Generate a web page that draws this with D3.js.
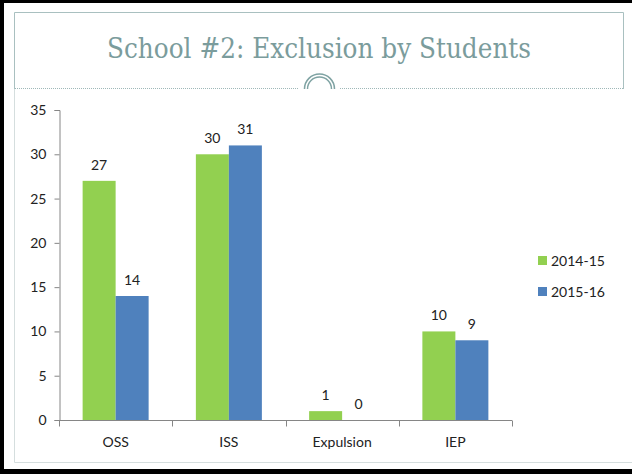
<!DOCTYPE html>
<html>
<head>
<meta charset="utf-8">
<script src="https://cdn.jsdelivr.net/npm/d3@7/dist/d3.min.js"></script>
<style>
  html, body { margin: 0; padding: 0; background: #fff; }
  svg { display: block; }
</style>
</head>
<body>
<svg id="chart" width="632" height="474"></svg>
<script>
// Exclusion counts by type, two school years
const categories = ["OSS", "ISS", "Expulsion", "IEP"];
const seriesNames = ["2014-15", "2015-16"];
const values2014 = [27, 30, 1, 10];
const values2015 = [14, 31, 0, 9];
const yTicks = [0, 5, 10, 15, 20, 25, 30, 35];
const colors = ["#92D050", "#4F81BD"];
const titleText = "School #2: Exclusion by Students";

const svg = d3.select("#chart");
const font = "Lato, 'Open Sans', sans-serif";

// slide frame
svg.append("rect").attr("x", 0).attr("y", 0).attr("width", 632).attr("height", 474).attr("fill", "#fff");
svg.append("rect").attr("x", 0).attr("y", 0).attr("width", 4).attr("height", 474).attr("fill", "#000");
svg.append("rect").attr("x", 0).attr("y", 0).attr("width", 632).attr("height", 3).attr("fill", "#000");
svg.append("rect").attr("x", 0).attr("y", 469).attr("width", 632).attr("height", 5).attr("fill", "#000");

// title box: solid top and sides, dotted bottom broken by the arc ornament
const boxStroke = "#a9c0c0";
svg.append("path")
  .attr("d", "M14.5,89 L14.5,12.5 L623.5,12.5 L623.5,89")
  .attr("fill", "none").attr("stroke", boxStroke).attr("stroke-width", 1);
svg.append("line").attr("x1", 15).attr("x2", 299).attr("y1", 88.5).attr("y2", 88.5)
  .attr("stroke", "#9fb8b8").attr("stroke-width", 1).attr("stroke-dasharray", "1,1");
svg.append("line").attr("x1", 340).attr("x2", 623).attr("y1", 88.5).attr("y2", 88.5)
  .attr("stroke", "#9fb8b8").attr("stroke-width", 1).attr("stroke-dasharray", "1,1");
const arcCx = 319.5, arcCy = 89;
[15, 12].forEach(r => {
  svg.append("path")
    .attr("d", `M${arcCx - r},${arcCy} A${r},${r} 0 0 1 ${arcCx + r},${arcCy}`)
    .attr("fill", "none").attr("stroke", "#7fa3a3").attr("stroke-width", 1.5);
});

svg.append("text")
  .attr("x", 319).attr("y", 58)
  .attr("text-anchor", "middle")
  .attr("font-family", "Georgia, 'DejaVu Serif', serif")
  .attr("font-size", 27)
  .attr("fill", "#7b9c9c")
  .attr("textLength", 424).attr("lengthAdjust", "spacingAndGlyphs")
  .text(titleText);

// chart area border
svg.append("path")
  .attr("d", "M14.5,89 L14.5,462.5 L632,462.5")
  .attr("fill", "none").attr("stroke", "#d5dede").attr("stroke-width", 1);

// scales
const plotLeft = 59, plotRight = 512, plotTop = 110, plotBottom = 420;
const x0 = d3.scaleBand().domain(categories).range([plotLeft, plotRight]).paddingInner(0).paddingOuter(0);
const x1 = d3.scaleBand().domain(seriesNames).range([0, x0.bandwidth()]).paddingInner(0).paddingOuter(0.716);
const y = d3.scaleLinear().domain([0, 35]).range([plotBottom, plotTop]);

const axisColor = "#868686";

// y axis
const yAxis = svg.append("g").attr("transform", `translate(${plotLeft + 0.5},0)`)
  .call(d3.axisLeft(y).tickValues(yTicks).tickSize(5).tickPadding(8).tickFormat(d3.format("d")));
yAxis.select(".domain").attr("stroke", axisColor);
yAxis.selectAll(".tick line").attr("stroke", axisColor);
yAxis.selectAll(".tick text").attr("font-family", font).attr("font-size", 14).attr("fill", "#222");

// x axis with ticks on category boundaries
const xAxisG = svg.append("g").attr("transform", `translate(0,${plotBottom + 0.5})`);
xAxisG.append("line").attr("x1", plotLeft).attr("x2", plotRight)
  .attr("stroke", axisColor);
const boundaries = categories.map(c => x0(c)).concat([x0(categories[categories.length - 1]) + x0.bandwidth()]);
xAxisG.selectAll("line.bt").data(boundaries).enter().append("line")
  .attr("class", "bt")
  .attr("x1", d => Math.round(d) + 0.5).attr("x2", d => Math.round(d) + 0.5)
  .attr("y1", 0).attr("y2", 6).attr("stroke", axisColor);
xAxisG.selectAll("text").data(categories).enter().append("text")
  .attr("x", d => x0(d) + x0.bandwidth() / 2)
  .attr("y", 26)
  .attr("text-anchor", "middle")
  .attr("font-family", font).attr("font-size", 14).attr("fill", "#222")
  .text(d => d);

// bars and value labels
const rows = categories.map((c, i) => ({ cat: c, vals: [values2014[i], values2015[i]] }));
const groups = svg.selectAll("g.cat").data(rows).enter().append("g")
  .attr("class", "cat")
  .attr("transform", d => `translate(${x0(d.cat)},0)`);

groups.selectAll("rect").data(d => d.vals.map((v, j) => ({ v, s: seriesNames[j], j })))
  .enter().append("rect")
  .attr("x", d => x1(d.s))
  .attr("width", x1.bandwidth())
  .attr("y", d => y(d.v))
  .attr("height", d => y(0) - y(d.v))
  .attr("fill", d => colors[d.j]);

groups.selectAll("text").data(d => d.vals.map((v, j) => ({ v, s: seriesNames[j], j })))
  .enter().append("text")
  .attr("x", d => x1(d.s) + x1.bandwidth() / 2)
  .attr("y", d => y(d.v) - 11)
  .attr("text-anchor", "middle")
  .attr("font-family", font).attr("font-size", 14).attr("fill", "#222")
  .text(d => d.v);

// legend
const legend = svg.append("g").attr("transform", "translate(538,256)");
seriesNames.forEach((s, i) => {
  legend.append("rect").attr("x", 0).attr("y", i * 31).attr("width", 9).attr("height", 9).attr("fill", colors[i]);
  legend.append("text").attr("x", 13).attr("y", i * 31 + 9.5)
    .attr("font-family", font).attr("font-size", 14).attr("fill", "#222")
    .text(s);
});
</script>
</body>
</html>
